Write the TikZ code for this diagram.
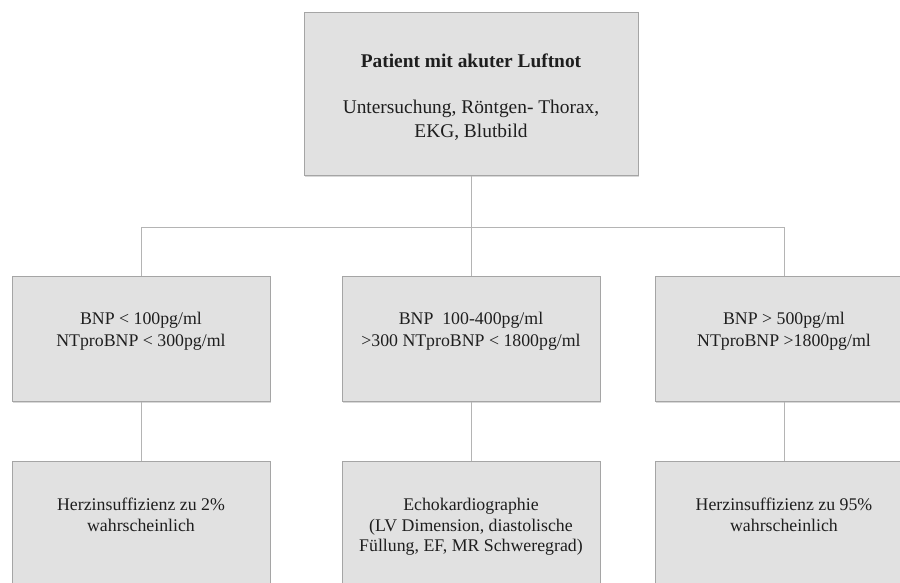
\documentclass[tikz,border=0pt]{standalone}
\usepackage{fontspec}
\setmainfont{Liberation Serif}
\usetikzlibrary{shadows}
\definecolor{boxfill}{RGB}{225,225,225}
\definecolor{boxline}{RGB}{165,165,165}
\definecolor{linkline}{RGB}{180,180,180}
\definecolor{ink}{RGB}{30,30,30}
\begin{document}
\begin{tikzpicture}[x=1pt,y=1pt,
  card/.style={rectangle, draw=boxline, fill=boxfill, line width=1pt,
    inner sep=0pt, minimum width=258pt,
    drop shadow={shadow xshift=1pt, shadow yshift=-1.5pt, opacity=0.3}},
  headcard/.style={card, minimum width=334pt, minimum height=163pt},
  midcard/.style={card, minimum height=125pt},
  lowcard/.style={card, minimum height=140pt},
  cardtext/.style={anchor=north, inner sep=0pt, align=center, text=ink},
  headfont/.style={font=\fontsize{19.4pt}{23.4pt}\selectfont},
  midfont/.style={font=\fontsize{17.8pt}{21.6pt}\selectfont},
  lowfont/.style={font=\fontsize{17.8pt}{20.3pt}\selectfont},
  link/.style={draw=linkline, line width=1pt}
]
\useasboundingbox (0,0) rectangle (900,-583);
\clip (0,0) rectangle (900,-583);
\fill[white] (0,0) rectangle (900,-583);

% boxes
\node[headcard] (top) at (471,-94.5) {};
\node[midcard] (m1) at (141,-338.5) {};
\node[midcard] (m2) at (471,-338.5) {};
\node[midcard] (m3) at (784,-338.5) {};
\node[lowcard] (l1) at (141,-531) {};
\node[lowcard] (l2) at (471,-531) {};
\node[lowcard] (l3) at (784,-531) {};

% connectors
\coordinate (split) at (471,-227);
\draw[link] (top.south) -- (split);
\draw[link] (split) -| (m1.north);
\draw[link] (split) -- (m2.north);
\draw[link] (split) -| (m3.north);
\draw[link] (m1.south) -- (l1.north);
\draw[link] (m2.south) -- (l2.north);
\draw[link] (m3.south) -- (l3.north);

% texts
\node[cardtext, headfont] (ttop) at ([yshift=-41.3pt]top.north)
  {\rule{0pt}{14pt}\textbf{Patient mit akuter Luftnot}\\[22.6pt]
   Untersuchung, Röntgen- Thorax,\\ EKG, Blutbild};
\node[cardtext, midfont] (tm1) at ([yshift=-35pt]m1.north)
  {\rule{0pt}{14pt}BNP < 100pg/ml\\ NTproBNP < 300pg/ml};
\node[cardtext, midfont] (tm2) at ([yshift=-35pt]m2.north)
  {\rule{0pt}{14pt}BNP\ \ 100-400pg/ml\\ >300 NTproBNP < 1800pg/ml};
\node[cardtext, midfont] (tm3) at ([yshift=-35pt]m3.north)
  {\rule{0pt}{14pt}BNP > 500pg/ml\\ NTproBNP >1800pg/ml};
\node[cardtext, lowfont] (tl1) at ([yshift=-36pt]l1.north)
  {\rule{0pt}{14pt}Herzinsuffizienz zu 2\%\\ wahrscheinlich};
\node[cardtext, lowfont] (tl2) at ([yshift=-36pt]l2.north)
  {\rule{0pt}{14pt}Echokardiographie\\ (LV Dimension, diastolische\\ Füllung, EF, MR Schweregrad)};
\node[cardtext, lowfont] (tl3) at ([yshift=-36pt]l3.north)
  {\rule{0pt}{14pt}Herzinsuffizienz zu 95\%\\ wahrscheinlich};
\end{tikzpicture}
\end{document}
